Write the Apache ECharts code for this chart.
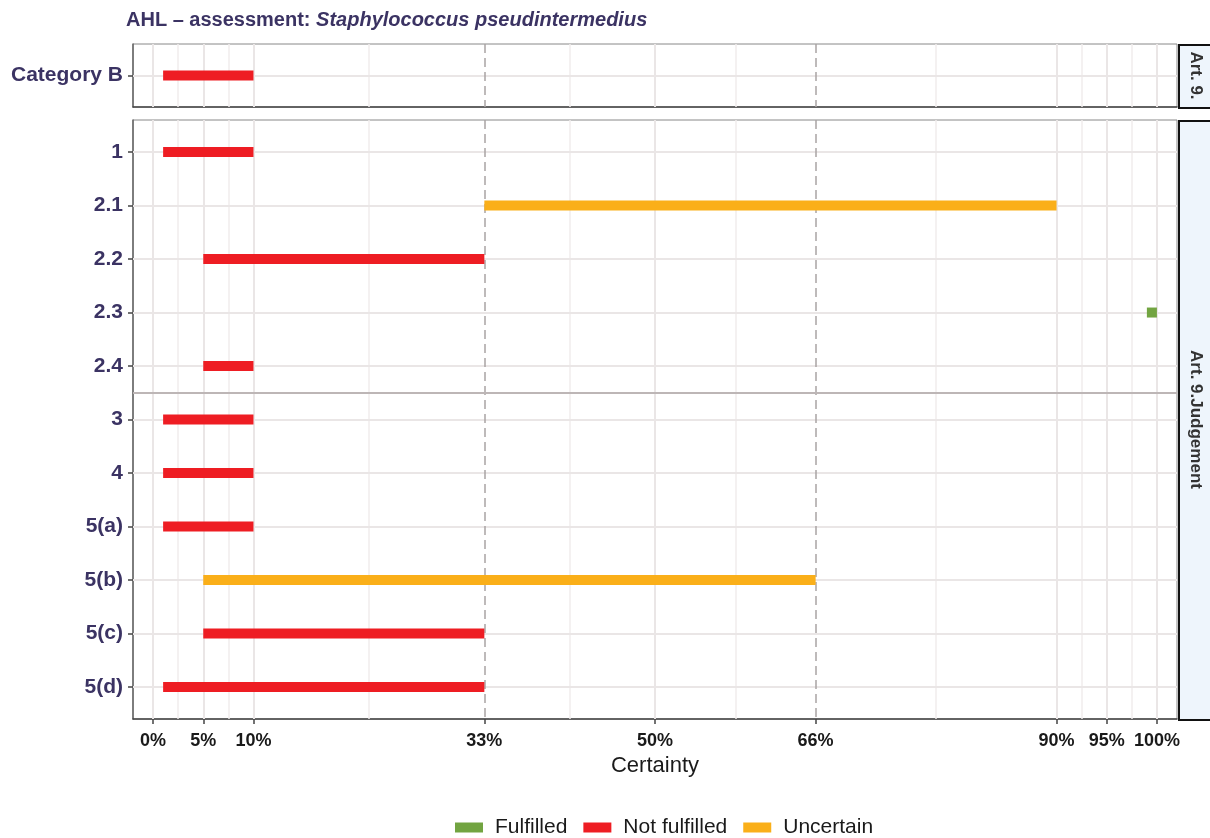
<!DOCTYPE html>
<html>
<head>
<meta charset="utf-8">
<script src="https://cdn.jsdelivr.net/npm/echarts@6/dist/echarts.min.js"></script>
<style>html,body{margin:0;padding:0;background:#fff}#c{width:1210px;height:838px}</style>
</head>
<body>
<div id="c"></div>
<script>
// ---------- data ----------
const topCategories = ['Category B'];
const topStart = [1];
const topEnd = [10];
const topStatus = ['Not fulfilled'];

const categories = ['1', '2.1', '2.2', '2.3', '2.4', '3', '4', '5(a)', '5(b)', '5(c)', '5(d)'];
const startValues = [1, 33, 5, 99, 5, 1, 1, 1, 5, 5, 1];
const endValues = [10, 90, 33, 100, 10, 10, 10, 10, 66, 33, 33];
const statusValues = ['Not fulfilled', 'Uncertain', 'Not fulfilled', 'Fulfilled', 'Not fulfilled',
  'Not fulfilled', 'Not fulfilled', 'Not fulfilled', 'Uncertain', 'Not fulfilled', 'Not fulfilled'];

const statuses = ['Fulfilled', 'Not fulfilled', 'Uncertain'];
const xTicks = [0, 5, 10, 33, 50, 66, 90, 95, 100];
const xMinor = [2.5, 7.5, 21.5, 41.5, 58, 78, 92.5, 97.5];
const dashedRefs = [33, 66];
const separatorAt = [4.5];
const stripLabels = ['Art. 9.', 'Art. 9.Judgement'];

// ---------- style ----------
const colors = { 'Fulfilled': '#72A441', 'Not fulfilled': '#EE1D23', 'Uncertain': '#FAAF19' };
const FONT = 'Liberation Sans, Arial, sans-serif';
const LABEL_COLOR = '#3B3363';
const L = 133, W = 1044;
const panels = [
  { top: 44, height: 63 },
  { top: 120, height: 599 }
];

function renderBar(params, api) {
  const y = api.value(0), s = api.value(1), e = api.value(2);
  const p1 = api.coord([s, y]);
  const p2 = api.coord([e, y]);
  const h = 10;
  return {
    type: 'rect',
    shape: { x: p1[0], y: p1[1] - h / 2, width: p2[0] - p1[0], height: h },
    style: { fill: api.visual('color') }
  };
}

function gridLineSeries(idx, nCats, withSep) {
  const lines = [];
  xMinor.forEach(v => lines.push({ xAxis: v, lineStyle: { color: '#F0EDED', width: 1.5, type: 'solid' } }));
  xTicks.filter(v => dashedRefs.indexOf(v) < 0).forEach(v => lines.push({ xAxis: v, lineStyle: { color: '#EAE6E6', width: 2, type: 'solid' } }));
  for (let i = 0; i < nCats; i++) lines.push({ yAxis: i, lineStyle: { color: '#EAE6E6', width: 2, type: 'solid' } });
  dashedRefs.forEach(v => lines.push({ xAxis: v, lineStyle: { color: '#A9A4A4', width: 1.5, type: [9, 5] } }));
  if (withSep) separatorAt.forEach(v => lines.push({ yAxis: v, lineStyle: { color: '#BDB6B6', width: 2, type: 'solid' } }));
  return {
    type: 'line', name: 'grid' + idx, xAxisIndex: idx, yAxisIndex: idx,
    data: [[0, 0]], showSymbol: false, symbol: 'none', lineStyle: { opacity: 0 },
    silent: true, z: 1, animation: false,
    markLine: { silent: true, symbol: 'none', label: { show: false }, animation: false, data: lines }
  };
}

const series = [gridLineSeries(0, topCategories.length, false), gridLineSeries(1, categories.length, true)];

statuses.forEach(st => {
  const d = [];
  topStatus.forEach((s, i) => { if (s === st) d.push([i, topStart[i], topEnd[i]]); });
  if (d.length) series.push({
    type: 'custom', name: st, xAxisIndex: 0, yAxisIndex: 0, renderItem: renderBar,
    itemStyle: { color: colors[st] }, encode: { x: [1, 2], y: 0 }, data: d, z: 5, animation: false
  });
});
statuses.forEach(st => {
  const d = [];
  statusValues.forEach((s, i) => { if (s === st) d.push([i, startValues[i], endValues[i]]); });
  series.push({
    type: 'custom', name: st, xAxisIndex: 1, yAxisIndex: 1, renderItem: renderBar,
    itemStyle: { color: colors[st] }, encode: { x: [1, 2], y: 0 }, data: d, z: 5, animation: false
  });
});

function xAxis(idx, showLabels) {
  return {
    type: 'value', gridIndex: idx, min: -2, max: 102,
    splitLine: { show: false },
    axisLine: { show: true, onZero: false, lineStyle: { color: '#444', width: 1.5 } },
    axisTick: { show: showLabels, customValues: xTicks, length: 5, lineStyle: { color: '#444', width: 1.5 } },
    axisLabel: {
      show: showLabels, customValues: xTicks, formatter: v => v + '%',
      fontFamily: FONT, fontSize: 18, fontWeight: 'bold', color: '#1a1a1a', margin: 13
    },
    name: showLabels ? 'Certainty' : '', nameLocation: 'middle', nameGap: 36,
    nameTextStyle: { fontFamily: FONT, fontSize: 22, color: '#1a1a1a' }
  };
}
function yAxis(idx, cats) {
  const ticks = cats.map((c, i) => i);
  return {
    type: 'value', gridIndex: idx, inverse: true, min: -0.6, max: cats.length - 1 + 0.6,
    splitLine: { show: false },
    axisLine: { show: true, onZero: false, lineStyle: { color: '#666', width: 1.5 } },
    axisTick: { show: true, customValues: ticks, length: 5, lineStyle: { color: '#444', width: 1.5 } },
    axisLabel: {
      customValues: ticks, formatter: v => cats[Math.round(v)],
      fontFamily: FONT, fontSize: 21, fontWeight: 'bold', color: LABEL_COLOR, margin: 10
    }
  };
}

const graphics = [];
panels.forEach((p, i) => {
  graphics.push({
    type: 'rect', left: 1178, top: p.top, z: 10, silent: true,
    shape: { width: 50, height: p.height },
    style: { fill: '#EEF5FC', stroke: '#111', lineWidth: 2 }
  });
  graphics.push({
    type: 'text', x: 1196, y: p.top + p.height / 2, rotation: -Math.PI / 2, z: 11, silent: true,
    style: {
      text: stripLabels[i], fontFamily: FONT, fontSize: 17, fontWeight: 'bold', fill: '#333',
      align: 'center', verticalAlign: 'middle'
    }
  });
});

const chart = echarts.init(document.getElementById('c'), null, { renderer: 'canvas' });
chart.setOption({
  animation: false,
  backgroundColor: '#fff',
  title: {
    left: 121, top: 5,
    text: '{b|AHL – assessment: }{i|Staphylococcus pseudintermedius}',
    textStyle: {
      rich: {
        b: { fontFamily: FONT, fontSize: 20, fontWeight: 'bold', color: LABEL_COLOR },
        i: { fontFamily: FONT, fontSize: 20, fontStyle: 'italic', color: LABEL_COLOR }
      }
    }
  },
  legend: {
    data: statuses.map(s => ({ name: s, icon: 'rect' })),
    left: 450, top: 812, itemWidth: 28, itemHeight: 10, itemGap: 16,
    textStyle: { fontFamily: FONT, fontSize: 21, color: '#1a1a1a', padding: [0, 0, 0, 7] },
    selectedMode: false
  },
  grid: panels.map(p => ({
    left: L, width: W, top: p.top, height: p.height, show: true,
    borderColor: '#888', borderWidth: 1, backgroundColor: '#fff'
  })),
  xAxis: [xAxis(0, false), xAxis(1, true)],
  yAxis: [yAxis(0, topCategories), yAxis(1, categories)],
  series: series,
  graphic: graphics
});
</script>
</body>
</html>
